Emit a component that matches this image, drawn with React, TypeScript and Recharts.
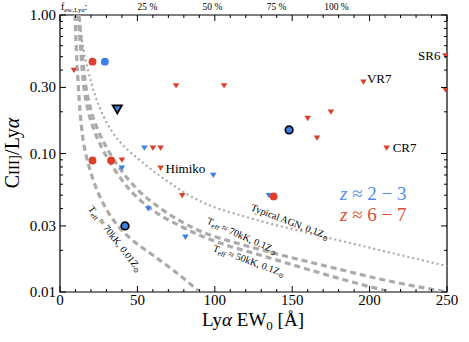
import React from "react";
import { ComposedChart, Line, Scatter, XAxis, YAxis, ReferenceArea } from "recharts";

const FONT = "'Liberation Serif', 'DejaVu Serif', serif";
const RED = "#dc3f2c";
const BLUE = "#3a80e6";
const GREY = "#ababab";

// axis ticks
const xTicks = [0, 10, 20, 30, 40, 50, 60, 70, 80, 90, 100, 110, 120, 130, 140, 150, 160, 170, 180, 190, 200, 210, 220, 230, 240, 250];
const xLabels = [0, 50, 100, 150, 200, 250];
const yTicks = [0.01, 0.02, 0.03, 0.04, 0.05, 0.06, 0.07, 0.08, 0.09, 0.1, 0.2, 0.3, 0.4, 0.5, 0.6, 0.7, 0.8, 0.9, 1];
const yLabels = [0.01, 0.03, 0.1, 0.3, 1];
const fescTicks = [56.5, 98.5, 139.9, 178.6];
const fescLabels = ["25 %", "50 %", "75 %", "100 %"];

// z ~ 6-7
const redCircles = [
  { x: 21, y: 0.46 },
  { x: 21, y: 0.089 },
  { x: 33, y: 0.089 },
  { x: 138, y: 0.049 },
];
const redLimits = [
  { x: 9, y: 0.4 },
  { x: 75, y: 0.31 },
  { x: 106, y: 0.31 },
  { x: 196, y: 0.33, name: "VR7" },
  { x: 249, y: 0.51, name: "SR6" },
  { x: 249, y: 0.29 },
  { x: 175, y: 0.2 },
  { x: 160, y: 0.18 },
  { x: 166, y: 0.13 },
  { x: 211, y: 0.11, name: "CR7" },
  { x: 60, y: 0.11 },
  { x: 65, y: 0.11 },
  { x: 40, y: 0.09 },
  { x: 65, y: 0.079, name: "Himiko" },
  { x: 79, y: 0.05 },
];

// z ~ 2-3
const blueCircles = [{ x: 29, y: 0.46 }];
const blueStacks = [
  { x: 148, y: 0.148 },
  { x: 42, y: 0.03 },
];
const blueStackLimits = [{ x: 37, y: 0.21 }];
const blueLimits = [
  { x: 54.5, y: 0.11 },
  { x: 40, y: 0.079 },
  { x: 99, y: 0.07 },
  { x: 57, y: 0.04 },
  { x: 81, y: 0.025 },
  { x: 135, y: 0.05 },
];

// model tracks
const curve70kLowZ = [
  { x: 9.7, y: 1.0 }, { x: 10.3, y: 0.66 }, { x: 11.6, y: 0.339 }, { x: 12.9, y: 0.206 },
  { x: 14.5, y: 0.136 }, { x: 16.8, y: 0.0975 }, { x: 19.4, y: 0.076 }, { x: 22.6, y: 0.0592 },
  { x: 26.5, y: 0.0469 }, { x: 31.0, y: 0.0378 }, { x: 37.5, y: 0.03 }, { x: 45.2, y: 0.0245 },
  { x: 58.1, y: 0.0191 }, { x: 73.0, y: 0.0144 }, { x: 90.4, y: 0.01 },
];
const curve70k = [
  { x: 12.3, y: 1.0 }, { x: 13.6, y: 0.66 }, { x: 16.2, y: 0.339 }, { x: 20.0, y: 0.206 },
  { x: 24.5, y: 0.148 }, { x: 31.0, y: 0.106 }, { x: 39.4, y: 0.076 }, { x: 50.4, y: 0.0545 },
  { x: 64.6, y: 0.0404 }, { x: 90.4, y: 0.0276 }, { x: 116.3, y: 0.0222 }, { x: 142.8, y: 0.0185 },
  { x: 174.4, y: 0.01515 }, { x: 206.7, y: 0.0124 }, { x: 250, y: 0.01 },
];
const curve50k = [
  { x: 11.6, y: 1.0 }, { x: 12.9, y: 0.66 }, { x: 14.9, y: 0.339 }, { x: 18.1, y: 0.206 },
  { x: 22.0, y: 0.148 }, { x: 27.8, y: 0.106 }, { x: 35.5, y: 0.076 }, { x: 45.2, y: 0.0545 },
  { x: 58.1, y: 0.0404 }, { x: 77.5, y: 0.03 }, { x: 103.4, y: 0.0226 }, { x: 129.2, y: 0.0185 },
  { x: 155.0, y: 0.01515 }, { x: 184.1, y: 0.0122 }, { x: 213.2, y: 0.01 },
];
const curveAgn = [
  { x: 12.3, y: 1.0 }, { x: 14.2, y: 0.66 }, { x: 18.1, y: 0.401 }, { x: 22.6, y: 0.2645 },
  { x: 28.4, y: 0.183 }, { x: 34.2, y: 0.141 }, { x: 41.3, y: 0.113 }, { x: 49.1, y: 0.0944 },
  { x: 56.9, y: 0.08 }, { x: 64.6, y: 0.0688 }, { x: 73.0, y: 0.0592 }, { x: 80.8, y: 0.0519 },
  { x: 90.4, y: 0.0454 }, { x: 122.7, y: 0.0342 }, { x: 155.0, y: 0.0276 }, { x: 187.3, y: 0.0226 },
  { x: 219.6, y: 0.0185 }, { x: 250, y: 0.0154 },
];

const PLOT = { left: 60, right: 447, top: 15, bottom: 292 };

const nameOffsets: Record<string, { dx: number; dy: number; anchor: string }> = {
  SR6: { dx: -5, dy: 4.5, anchor: "end" },
  VR7: { dx: 3.5, dy: 1.5, anchor: "start" },
  CR7: { dx: 6, dy: 4, anchor: "start" },
  Himiko: { dx: 5, dy: 5.5, anchor: "start" },
};

const XTick = (props: any) => {
  const { x, payload } = props;
  const major = xLabels.includes(payload.value);
  const len = major ? 6 : 3;
  return (
    <g>
      <line x1={x} x2={x} y1={PLOT.bottom} y2={PLOT.bottom - len} stroke="#000" />
      <line x1={x} x2={x} y1={PLOT.top} y2={PLOT.top + len} stroke="#000" />
      {major && (
        <text x={x} y={305} textAnchor="middle" fontSize={15} fontFamily={FONT} fill="#000">
          {payload.value}
        </text>
      )}
    </g>
  );
};

const YTick = (props: any) => {
  const { y, payload } = props;
  const major = yLabels.includes(payload.value);
  const len = major ? 6 : 3;
  return (
    <g>
      <line x1={PLOT.left} x2={PLOT.left + len} y1={y} y2={y} stroke="#000" />
      <line x1={PLOT.right} x2={PLOT.right - len} y1={y} y2={y} stroke="#000" />
      {major && (
        <text x={56} y={y + 5} textAnchor="end" fontSize={15} fontFamily={FONT} fill="#000">
          {payload.value.toFixed(2)}
        </text>
      )}
    </g>
  );
};

const TopTick = (props: any) => {
  const { x, payload } = props;
  const i = fescTicks.indexOf(payload.value);
  return (
    <text x={x} y={10} textAnchor="middle" fontSize={9.5} fontFamily={FONT} fill="#000">
      {i >= 0 ? fescLabels[i] : ""}
    </text>
  );
};

const Tri = (props: any, fill: string, big = false) => {
  const { cx, cy, payload } = props;
  const w = big ? 4.6 : 3.3;
  const h1 = big ? 3.4 : 2.3;
  const h2 = big ? 4.6 : 3.0;
  const off = payload && payload.name ? nameOffsets[payload.name] : null;
  return (
    <g>
      <path
        d={`M${cx - w},${cy - h1}L${cx + w},${cy - h1}L${cx},${cy + h2}Z`}
        fill={fill}
        stroke={big ? "#000" : "none"}
        strokeWidth={big ? 1.8 : 0}
        strokeLinejoin="miter"
      />
      {off && (
        <text x={cx + off.dx} y={cy + off.dy} textAnchor={off.anchor as any} fontSize={13} fontFamily={FONT} fill="#000">
          {payload.name}
        </text>
      )}
    </g>
  );
};

const Dot = (props: any, fill: string, outlined = false) => (
  <circle
    cx={props.cx}
    cy={props.cy}
    r={outlined ? 3.8 : 3.9}
    fill={fill}
    stroke={outlined ? "#000" : "none"}
    strokeWidth={outlined ? 1.7 : 0}
  />
);

const CurveLabel = ({ x, y, angle, label }: { x: number; y: number; angle: number; label: string }) => (
  <text transform={`translate(${x},${y}) rotate(${angle})`} y={3} textAnchor="middle" fontSize={10} fontFamily={FONT} fill="#000">
    T<tspan fontSize={7} dy={2}>eff</tspan>
    <tspan dy={-2}>{` ≈ ${label}Z`}</tspan>
    <tspan fontSize={7} dy={2}>⊙</tspan>
  </text>
);

export default function App() {
  const dashed = { stroke: GREY, strokeWidth: 3.2, strokeDasharray: "6 4" };
  return (
    <div style={{ position: "absolute", left: 0, top: 0, width: 469, height: 342, background: "#fff", fontFamily: FONT }}>
      <ComposedChart width={469} height={342} margin={{ top: 0, right: 22, bottom: 20, left: 0 }}>
        <XAxis
          dataKey="x"
          type="number"
          domain={[0, 250]}
          ticks={xTicks}
          interval={0}
          allowDataOverflow
          height={30}
          axisLine={false}
          tickLine={false}
          tick={(p: any) => <XTick {...p} />}
        />
        <XAxis
          xAxisId="top"
          dataKey="x"
          orientation="top"
          type="number"
          domain={[0, 250]}
          ticks={fescTicks}
          interval={0}
          allowDataOverflow
          height={15}
          axisLine={false}
          tickLine={false}
          tick={(p: any) => <TopTick {...p} />}
        />
        <YAxis
          dataKey="y"
          type="number"
          scale="log"
          domain={[0.01, 1]}
          ticks={yTicks}
          interval={0}
          allowDataOverflow
          width={60}
          axisLine={false}
          tickLine={false}
          tick={(p: any) => <YTick {...p} />}
        />
        <Line data={curve70kLowZ} dataKey="y" type="monotone" dot={false} isAnimationActive={false} {...dashed} />
        <Line data={curve70k} dataKey="y" type="monotone" dot={false} isAnimationActive={false} {...dashed} />
        <Line data={curve50k} dataKey="y" type="monotone" dot={false} isAnimationActive={false} {...dashed} />
        <Line
          xAxisId="top"
          data={curveAgn}
          dataKey="y"
          type="monotone"
          dot={false}
          isAnimationActive={false}
          stroke={GREY}
          strokeWidth={2.2}
          strokeDasharray="2 3"
        />
        <Scatter data={blueLimits} isAnimationActive={false} shape={(p: any) => Tri(p, BLUE)} />
        <Scatter data={redLimits} isAnimationActive={false} shape={(p: any) => Tri(p, RED)} />
        <Scatter data={blueStackLimits} isAnimationActive={false} shape={(p: any) => Tri(p, BLUE, true)} />
        <Scatter data={blueCircles} isAnimationActive={false} shape={(p: any) => Dot(p, BLUE)} />
        <Scatter data={redCircles} isAnimationActive={false} shape={(p: any) => Dot(p, RED)} />
        <Scatter data={blueStacks} isAnimationActive={false} shape={(p: any) => Dot(p, BLUE, true)} />
        <ReferenceArea x1={0} x2={250} y1={0.01} y2={1} fill="none" stroke="#000" strokeWidth={1.2} />
      </ComposedChart>
      <svg width={469} height={342} style={{ position: "absolute", left: 0, top: 0, pointerEvents: "none" }}>
        <text x={61} y={10} fontSize={10} fontFamily={FONT} fill="#000">
          f<tspan fontSize={6.5} dy={2}>esc,Lyα</tspan>
          <tspan dy={-2}>:</tspan>
        </text>
        <CurveLabel x={115} y={239} angle={52} label="70kK, 0.01" />
        <CurveLabel x={242} y={236} angle={24} label="70kK, 0.1" />
        <CurveLabel x={249} y={261} angle={20} label="50kK, 0.1" />
        <text transform="translate(290,222) rotate(21)" y={3} textAnchor="middle" fontSize={10} fontFamily={FONT} fill="#000">
          Typical AGN, 0.1Z<tspan fontSize={7} dy={2}>⊙</tspan>
        </text>
        <text x={340} y={200} fontSize={19} fontFamily={FONT} fill="#4f8ae8">
          <tspan fontStyle="italic">z</tspan> ≈ 2 − 3
        </text>
        <text x={340} y={221} fontSize={19} fontFamily={FONT} fill="#e04b36">
          <tspan fontStyle="italic">z</tspan> ≈ 6 − 7
        </text>
        <text transform="translate(19,153) rotate(-90)" textAnchor="middle" fontSize={20} fontFamily={FONT} fill="#000">
          C<tspan fontSize={15}>III]</tspan>/Ly<tspan fontStyle="italic">α</tspan>
        </text>
        <text x={253} y={326} textAnchor="middle" fontSize={19} fontFamily={FONT} fill="#000">
          Ly<tspan fontStyle="italic">α</tspan> EW<tspan fontSize={13} dy={4}>0</tspan>
          <tspan dy={-4}> [Å]</tspan>
        </text>
      </svg>
    </div>
  );
}
